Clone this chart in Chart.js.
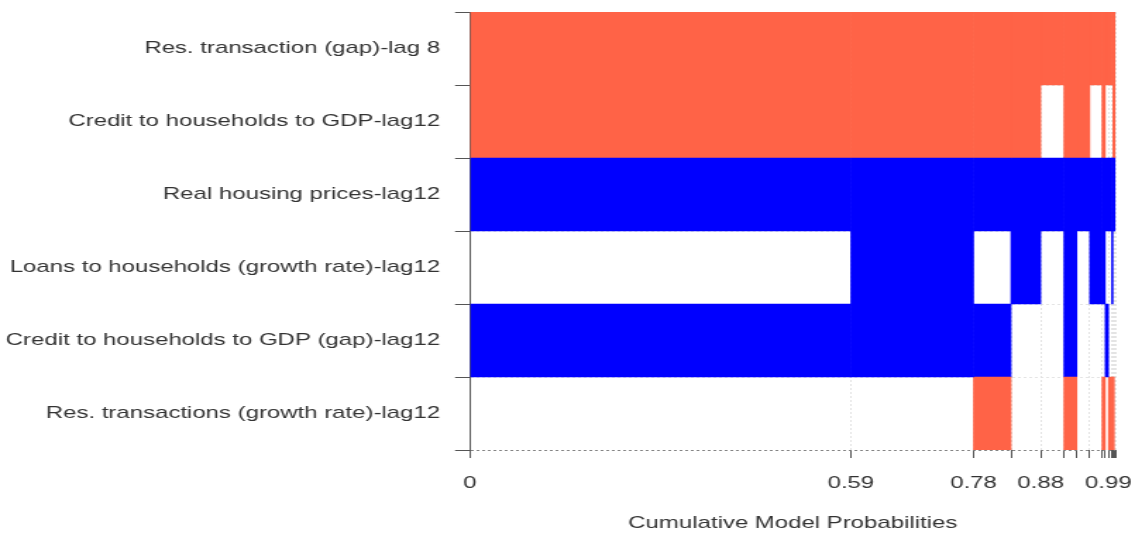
<!DOCTYPE html>
<html>
<head>
<meta charset="utf-8">
<script src="https://cdn.jsdelivr.net/npm/chart.js@4.4.1/dist/chart.umd.min.js"></script>
<style>
  html, body { margin: 0; padding: 0; background: #ffffff; overflow: hidden; }
</style>
</head>
<body>
<!-- drawn on a narrower canvas and widened by CSS, giving the broad lettering -->
<canvas id="plot" width="805" height="534" style="display:block;width:1135px;height:534px;"></canvas>
<script>
// Variables, top to bottom
const variables = [
  'Res. transaction (gap)-lag 8',
  'Credit to households to GDP-lag12',
  'Real housing prices-lag12',
  'Loans to households (growth rate)-lag12',
  'Credit to households to GDP (gap)-lag12',
  'Res. transactions (growth rate)-lag12'
];

// Posterior probability of each model, best model first
const modelProbs = [0.590, 0.190, 0.058, 0.046, 0.036, 0.020, 0.020, 0.019,
                    0.005, 0.005, 0.005, 0.002, 0.002, 0.002];

// Inclusion per model: 1 = positive sign, -1 = negative sign, 0 = not included
const resTransactionGapLag8      = [ 1,  1,  1,  1,  1,  1,  1,  1,  1,  1,  1,  1,  1,  1];
const creditToGdpLag12           = [ 1,  1,  1,  1,  0,  1,  1,  0,  1,  0,  0,  0,  1,  1];
const realHousingPricesLag12     = [-1, -1, -1, -1, -1, -1, -1, -1, -1, -1, -1, -1, -1, -1];
const loansGrowthLag12           = [ 0, -1,  0, -1,  0, -1,  0, -1, -1,  0,  0, -1,  0,  0];
const creditToGdpGapLag12        = [-1, -1, -1,  0,  0, -1,  0,  0,  0, -1,  0,  0,  0,  0];
const resTransactionsGrowthLag12 = [ 0,  0,  1,  0,  0,  1,  0,  0,  1,  0,  1,  1,  1,  0];

// Tick labels printed under the axis, and which model boundary each sits on
const tickLabels = ['0', '0.59', '0.78', '0.88', '0.99'];
const labelledBounds = [0, 1, 2, 4, 10];

const inclusion = [
  resTransactionGapLag8,
  creditToGdpLag12,
  realHousingPricesLag12,
  loansGrowthLag12,
  creditToGdpGapLag12,
  resTransactionsGrowthLag12
];

// cumulative probability boundaries of the models
const bounds = [0];
let acc = 0;
modelProbs.forEach(p => {
  acc = Math.round((acc + p) * 1000) / 1000;
  bounds.push(acc);
});

const RED = 'rgb(255,99,71)';
const BLUE = 'rgb(0,0,255)';
const FONT = { family: "'Liberation Sans', Arial, Helvetica, sans-serif", size: 17 };

const datasets = modelProbs.map((p, m) => ({
  label: 'Model ' + (m + 1),
  data: inclusion.map(row => row[m] === 0 ? null : [bounds[m], bounds[m + 1]]),
  backgroundColor: inclusion.map(row => row[m] > 0 ? RED : BLUE),
  borderWidth: 0,
  barPercentage: 1,
  categoryPercentage: 1,
  grouped: false
}));

new Chart(document.getElementById('plot'), {
  type: 'bar',
  data: { labels: variables, datasets },
  options: {
    indexAxis: 'y',
    responsive: false,
    animation: false,
    devicePixelRatio: 1,
    events: [],
    layout: { padding: { top: 12, right: 13.8, left: 0, bottom: 0 } },
    plugins: { legend: { display: false }, tooltip: { enabled: false } },
    scales: {
      x: {
        type: 'linear',
        min: 0,
        max: 1,
        position: 'bottom',
        z: 1,
        afterBuildTicks: s => { s.ticks = bounds.map(v => ({ value: v })); },
        afterFit: s => { s.height = 84; s.paddingLeft = 0; s.paddingRight = 0; },
        ticks: {
          autoSkip: false,
          maxRotation: 0,
          padding: 15,
          color: '#333',
          font: FONT,
          callback: (v, i) => {
            const k = labelledBounds.indexOf(i);
            return k < 0 ? '' : tickLabels[k];
          }
        },
        grid: {
          color: 'rgba(225,225,225,0.9)',
          lineWidth: 1,
          drawTicks: true,
          tickLength: 8,
          tickColor: '#555',
          tickWidth: 1
        },
        border: { display: false, dash: [2, 2] },
        title: {
          display: true,
          text: 'Cumulative Model Probabilities',
          color: '#333',
          font: FONT,
          padding: { top: 0, bottom: 0 }
        }
      },
      y: {
        type: 'category',
        z: 1,
        afterFit: s => { s.width = 333.35; s.paddingTop = 0; s.paddingBottom = 0; },
        ticks: { color: '#333', font: FONT, padding: 10.6 },
        grid: {
          color: c => c.type === 'scale' ? 'rgba(120,120,120,0.9)' : 'rgba(225,225,225,0.9)',
          lineWidth: 1,
          tickLength: 10.6,
          tickColor: '#555',
          tickWidth: 1
        },
        border: { display: true, color: '#555', width: 1, dash: [2, 2] }
      }
    }
  }
});
</script>
</body>
</html>
